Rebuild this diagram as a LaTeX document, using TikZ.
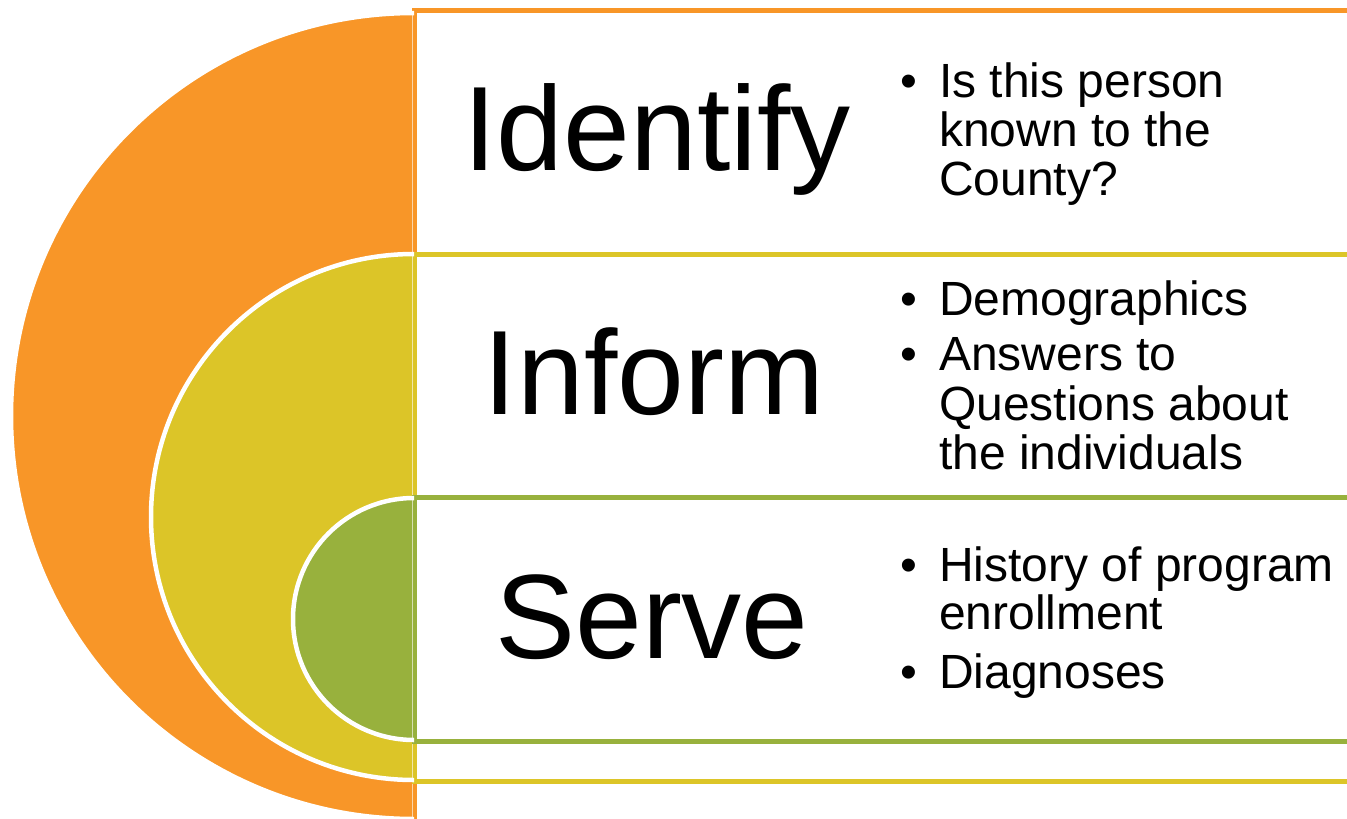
\documentclass[tikz,border=0pt]{standalone}
\usepackage{fontspec}
\setmainfont{Liberation Sans}
\definecolor{orng}{RGB}{248,150,40}
\definecolor{yllw}{RGB}{220,197,40}
\definecolor{grn}{RGB}{152,177,61}
\begin{document}
\begin{tikzpicture}[x=1pt,y=-1pt,
  rowbox/.style={line width=5pt, fill=white},
  discedge/.style={draw=white, line width=4.5pt},
  seam/.style={draw=white, opacity=0.6, line width=1pt},
  title/.style={font=\fontsize{120}{140}\selectfont, anchor=base, inner sep=0pt},
  btxt/.style={font=\fontsize{48}{54}\selectfont, anchor=base west, inner sep=0pt}]
\useasboundingbox (0,0) rectangle (1347,819);
\clip (0,0) rectangle (1347,819);
% orange band
\draw[rowbox, draw=orng] (414.5,10) rectangle (1400,900);
\begin{scope}
  \clip (0,0) rectangle (414,819);
  \fill[orng] (414,416) circle (403);
  \draw[discedge] (414,416) circle (403);
\end{scope}
\draw[seam] (412.5,13) -- (412.5,819);
% yellow band
\draw[rowbox, draw=yllw] (414.5,254.5) rectangle (1400,781.5);
\begin{scope}
  \clip (0,0) rectangle (414,819);
  \fill[yllw] (414,517) circle (263);
  \draw[discedge] (414,517) circle (263);
\end{scope}
\draw[seam] (412.5,256) -- (412.5,779);
% green band
\draw[rowbox, draw=grn] (414.5,497.5) rectangle (1400,741.5);
\begin{scope}
  \clip (0,0) rectangle (414,819);
  \fill[grn] (414,619) circle (121);
  \draw[discedge] (414,619) circle (121);
\end{scope}
\draw[seam] (412.5,500) -- (412.5,739);
% titles
\node[title] (identify) at (657,170) {Identify};
\node[title] (inform) at (654,414) {Inform};
\node[title] (serve) at (652,658) {Serve};
% Identify bullets
\node[btxt] (d1) at (900,97) {•};
\node[btxt] (t1a) at (939,97) {Is this person};
\node[btxt] (t1b) at (939,146) {known to the};
\node[btxt] (t1c) at (939,195) {County?};
% Inform bullets
\node[btxt] (d2) at (900,315) {•};
\node[btxt] (t2a) at (939,315) {Demographics};
\node[btxt] (d3) at (900,370) {•};
\node[btxt] (t3a) at (939,370) {Answers to};
\node[btxt] (t3b) at (939,420) {Questions about};
\node[btxt] (t3c) at (939,469) {the individuals};
% Serve bullets
\node[btxt] (d4) at (900,581) {•};
\node[btxt] (t4a) at (939,581) {History of program};
\node[btxt] (t4b) at (939,629) {enrollment};
\node[btxt] (d5) at (900,688) {•};
\node[btxt] (t5a) at (939,688) {Diagnoses};
\end{tikzpicture}
\end{document}
